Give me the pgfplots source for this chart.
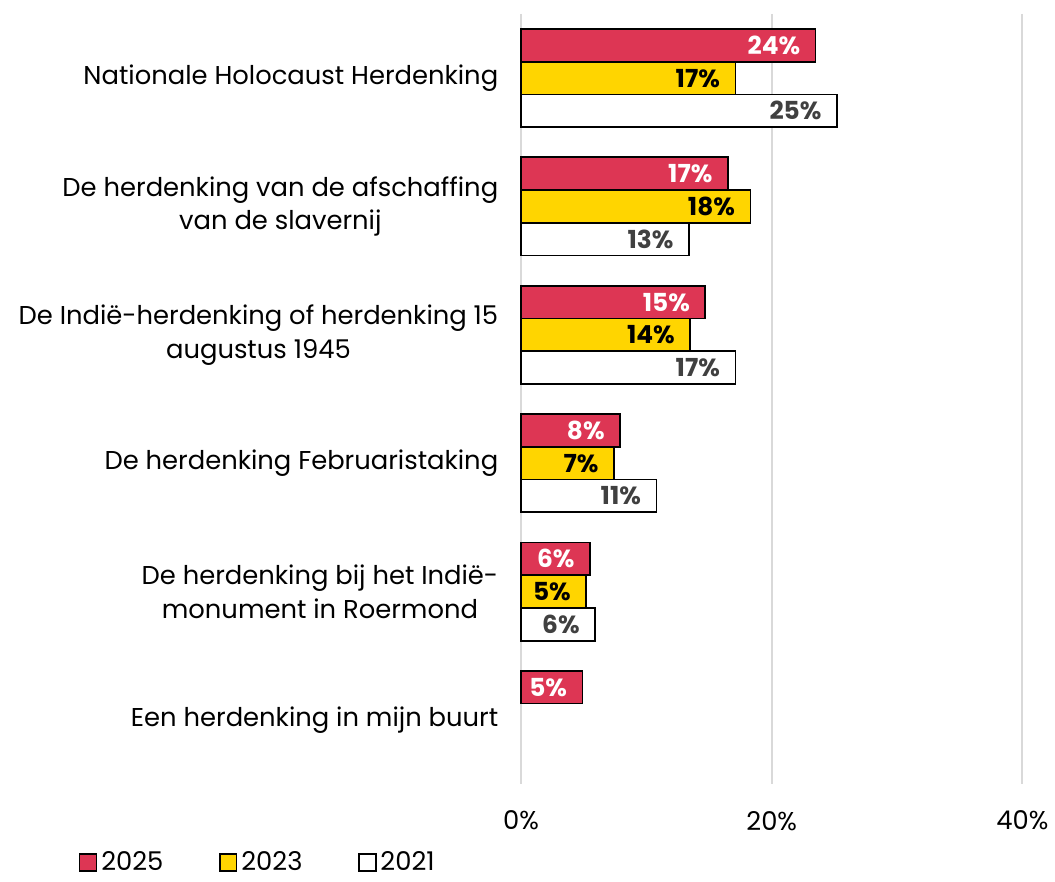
\documentclass[border=0pt]{standalone}
\usepackage{pgfplots}
\pgfplotsset{compat=1.18}
\usepackage{fontspec}
\setmainfont{Poppins}
\definecolor{c25}{HTML}{DD3654}
\definecolor{c23}{HTML}{FFD500}
\definecolor{lab21}{HTML}{404040}
\definecolor{gridc}{HTML}{D9D9D9}

\begin{document}
\begin{tikzpicture}
\begin{axis}[
    xbar,
    scale only axis,
    width=252.5pt, height=388pt,
    xmin=0, xmax=40,
    ymin=-0.5, ymax=5.5,
    y dir=reverse,
    bar width=0.255,
    font=\fontsize{13}{17}\selectfont,
    xtick={0,20,40},
    xticklabel={\pgfmathprintnumber{\tick}\%},
    /pgf/number format/assume math mode=true,
    xticklabel style={yshift=-10pt},
    ytick={0,...,5},
    yticklabels={Nationale Holocaust Herdenking,
        {De herdenking van de afschaffing\\van de slavernij},
        {De Indië-herdenking of herdenking 15\\augustus 1945},
        De herdenking Februaristaking,
        {De herdenking bij het Indië-\\monument in Roermond},
        Een herdenking in mijn buurt},
    yticklabel style={align=center, xshift=-8pt},
    axis line style={draw=none},
    major tick length=0pt,
    xmajorgrids,
    major grid style={gridc, line width=1pt},
    point meta=explicit,
    nodes near coords={\pgfmathprintnumber{\pgfplotspointmeta}\%},
    nodes near coords style={anchor=east, xshift=-4pt, font=\fontsize{12.5}{15}\selectfont\bfseries},
    legend image code/.code={\draw[#1, line width=0.8pt] (0pt,-4.25pt) rectangle (8.5pt,4.25pt);},
    legend style={at={(-0.895,-0.102)}, anchor=west, draw=none, legend columns=3,
        /tikz/every even column/.append style={column sep=26pt},
        nodes={inner sep=2pt}},
    clip=false,
]
\addplot[fill=c25, draw=black, line width=0.9pt, bar shift=-0.255,
    nodes near coords style={text=white}] coordinates {
    (23.5,0) [24]
    (16.5,1) [17]
    (14.7,2) [15]
    (7.9,3) [8]
    (5.5,4) [6]
    (4.9,5) [5]
};
\addplot[fill=c23, draw=black, line width=0.9pt, bar shift=0,
    nodes near coords style={text=black}] coordinates {
    (17.1,0) [17]
    (18.3,1) [18]
    (13.5,2) [14]
    (7.4,3) [7]
    (5.2,4) [5]
};
\addplot[fill=white, draw=black, line width=0.9pt, bar shift=0.255,
    nodes near coords style={text=lab21}] coordinates {
    (25.2,0) [25]
    (13.4,1) [13]
    (17.1,2) [17]
    (10.8,3) [11]
    (5.9,4) [6]
};
\legend{2025,2023,2021}
\coordinate (bl) at (rel axis cs:0,0);
\coordinate (tr) at (rel axis cs:1,1);
\end{axis}
\path (bl) ++(-262.5pt,-42.5pt);
\path (tr) ++(12.5pt,7pt);
\end{tikzpicture}
\end{document}
